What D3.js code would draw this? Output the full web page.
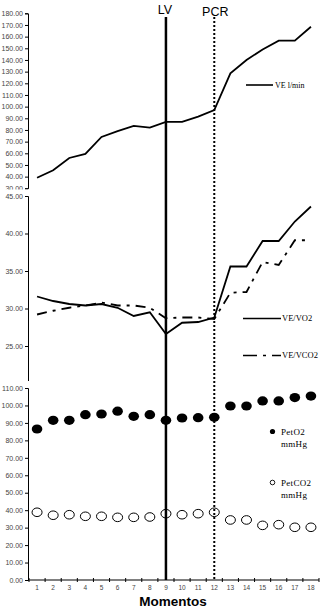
<!DOCTYPE html>
<html>
<head>
<meta charset="utf-8">
<script src="https://cdn.jsdelivr.net/npm/d3@7"></script>
<style>
  body { margin: 0; background: #fff; }
  svg { display: block; }
  .tick text { font-family: Arial, "Liberation Sans", sans-serif; font-size: 7px; fill: #444; }
  .domain, .tick line { stroke: #000; stroke-width: 1; }
  .leg { font-family: "Liberation Serif", "Times New Roman", serif; fill: #000; }
</style>
</head>
<body>
<script>
// moments on the x axis
var momentos = [1, 2, 3, 4, 5, 6, 7, 8, 9, 10, 11, 12, 13, 14, 15, 16, 17, 18];

// ventilation (l/min)
var ve = [39, 45.5, 56, 59.5, 74, 79, 83.5, 82, 87, 87, 91.5, 97, 128.5, 140, 149, 156.5, 156.5, 168.5];

// ventilatory equivalents
var veVo2 = [31.6, 31, 30.6, 30.4, 30.6, 30.1, 29, 29.5, 26.6, 28.1, 28.2, 28.8, 35.6, 35.6, 39, 39, 41.6, 43.6];
var veVco2 = [29.2, 29.7, 30.1, 30.4, 30.8, 30.4, 30.4, 30.1, 28.7, 28.8, 28.8, 28.6, 32.1, 32.2, 36.2, 35.8, 39.1, 39.1];

// end tidal pressures (mmHg)
var petO2 = [86.5, 91.5, 91.5, 94.7, 95.1, 96.7, 93.8, 94.7, 91.5, 92.8, 93, 93.2, 99.7, 99.7, 102.6, 102.6, 104.5, 105.4];
var petCo2 = [38.8, 37.1, 37.4, 36.5, 36.5, 35.9, 35.9, 36.1, 38, 37.4, 38, 38.8, 34.4, 34.4, 31.3, 31.7, 30.2, 30.2];

// threshold moments
var lv = 9, pcr = 12;

var ticks1 = d3.range(30, 181, 10);
var ticks2 = d3.range(20, 46, 5);
var ticks3 = d3.range(0, 111, 10);

var W = 326, H = 612;
var svg = d3.select("body").append("svg").attr("width", W).attr("height", H);

var x = d3.scaleBand().domain(momentos).range([29, 319]);
var cx = function(d) { return x(d) + x.bandwidth() / 2; };

var y1 = d3.scaleLinear().domain([30, 180]).range([188.3, 13.3]);
var y2 = d3.scaleLinear().domain([20, 45]).range([383.5, 196]);
var y3 = d3.scaleLinear().domain([0, 110]).range([580, 388]);

var fmt = d3.format(".2f");

// clip panels so the lowest labels get cut like in the original
// (rects are in the axis group's local coords, which is shifted 28px right)
var defs = svg.append("defs");
defs.append("clipPath").attr("id", "c1").append("rect")
    .attr("x", -40).attr("y", 0).attr("width", 60).attr("height", 189.5);
defs.append("clipPath").attr("id", "c2").append("rect")
    .attr("x", -40).attr("y", 192).attr("width", 60).attr("height", 189);

function yAxis(scale, vals, clip) {
    var g = svg.append("g")
        .attr("transform", "translate(28,0)")
        .call(d3.axisLeft(scale).tickValues(vals).tickFormat(fmt).tickSize(3).tickSizeOuter(3).tickPadding(2));
    if (clip) g.attr("clip-path", "url(#" + clip + ")");
    return g;
}
yAxis(y1, ticks1, "c1");
yAxis(y2, ticks2, "c2");
yAxis(y3, ticks3);

// x axis: labels centred, ticks at the category borders
var xa = svg.append("g").attr("transform", "translate(0,580)");
xa.append("line").attr("x1", 28).attr("x2", 319).attr("stroke", "#000");
xa.selectAll(".bt").data(momentos.concat([19]))
    .enter().append("line")
    .attr("x1", function(d) { return d === 19 ? 319 : x(d); })
    .attr("x2", function(d) { return d === 19 ? 319 : x(d); })
    .attr("y1", -2).attr("y2", 2).attr("stroke", "#000");
xa.selectAll(".lbl").data(momentos)
    .enter().append("text")
    .attr("x", cx).attr("y", 10)
    .attr("text-anchor", "middle")
    .style("font-family", "Arial, 'Liberation Sans', sans-serif")
    .style("font-size", "6.5px").style("fill", "#444")
    .text(function(d) { return d; });

svg.append("text")
    .attr("x", 173).attr("y", 606)
    .attr("text-anchor", "middle")
    .style("font-family", "Arial, 'Liberation Sans', sans-serif")
    .style("font-weight", "bold").style("font-size", "13.5px")
    .text("Momentos");

// panel 1: VE
var line1 = d3.line().x(function(d, i) { return cx(momentos[i]); }).y(function(d) { return y1(d); });
svg.append("path").datum(ve).attr("d", line1)
    .attr("fill", "none").attr("stroke", "#000").attr("stroke-width", 1.8);

// panel 2: VE/VO2 and VE/VCO2
var line2 = d3.line().x(function(d, i) { return cx(momentos[i]); }).y(function(d) { return y2(d); });
svg.append("path").datum(veVo2).attr("d", line2)
    .attr("fill", "none").attr("stroke", "#000").attr("stroke-width", 1.8);
svg.append("path").datum(veVco2).attr("d", line2)
    .attr("fill", "none").attr("stroke", "#000").attr("stroke-width", 1.8)
    .attr("stroke-dasharray", "10,6,3,6");

// panel 3: markers
svg.selectAll(".o2").data(petO2).enter().append("ellipse")
    .attr("cx", function(d, i) { return cx(momentos[i]); })
    .attr("cy", function(d) { return y3(d); })
    .attr("rx", 5.3).attr("ry", 4.6).attr("fill", "#000");
svg.selectAll(".co2").data(petCo2).enter().append("ellipse")
    .attr("cx", function(d, i) { return cx(momentos[i]); })
    .attr("cy", function(d) { return y3(d); })
    .attr("rx", 5).attr("ry", 4.3)
    .attr("fill", "#fff").attr("stroke", "#000").attr("stroke-width", 1);

// threshold lines
svg.append("line")
    .attr("x1", cx(lv)).attr("x2", cx(lv)).attr("y1", 17).attr("y2", 580)
    .attr("stroke", "#000").attr("stroke-width", 2.5);
svg.append("line")
    .attr("x1", cx(pcr)).attr("x2", cx(pcr)).attr("y1", 17).attr("y2", 580)
    .attr("stroke", "#000").attr("stroke-width", 2).attr("stroke-dasharray", "2,2");

svg.append("text").attr("x", cx(lv) - 1).attr("y", 14)
    .attr("text-anchor", "middle")
    .style("font-family", "Arial, 'Liberation Sans', sans-serif").style("font-size", "12.5px")
    .text("LV");
svg.append("text").attr("x", cx(pcr) + 1).attr("y", 16)
    .attr("text-anchor", "middle")
    .style("font-family", "Arial, 'Liberation Sans', sans-serif").style("font-size", "12.5px")
    .text("PCR");

// legends
function legLine(y, dash, label, size) {
    svg.append("line").attr("x1", 243).attr("x2", 281).attr("y1", y).attr("y2", y)
        .attr("stroke", "#000").attr("stroke-width", 1.6)
        .attr("stroke-dasharray", dash);
    svg.append("text").attr("class", "leg").attr("x", 282).attr("y", y + 2.5)
        .style("font-size", size).text(label);
}
svg.append("line").attr("x1", 246).attr("x2", 273).attr("y1", 85).attr("y2", 85)
    .attr("stroke", "#000").attr("stroke-width", 1.6);
svg.append("text").attr("class", "leg").attr("x", 275).attr("y", 87.5)
    .style("font-size", "8px").text("VE l/min");
legLine(318.5, null, "VE/VO2", "8.5px");
legLine(355.5, "14,6,3,6", "VE/VCO2", "8.5px");

svg.append("circle").attr("cx", 272.5).attr("cy", 431.5).attr("r", 2.6).attr("fill", "#000");
svg.append("circle").attr("cx", 272.5).attr("cy", 482.5).attr("r", 2.3)
    .attr("fill", "#fff").attr("stroke", "#000").attr("stroke-width", 0.9);
[["PetO2", 434.5], ["mmHg", 446.5], ["PetCO2", 485.5], ["mmHg", 497.5]].forEach(function(t) {
    svg.append("text").attr("class", "leg").attr("x", 281).attr("y", t[1])
        .style("font-size", "9px").style("letter-spacing", "0.3px").text(t[0]);
});
</script>
</body>
</html>
